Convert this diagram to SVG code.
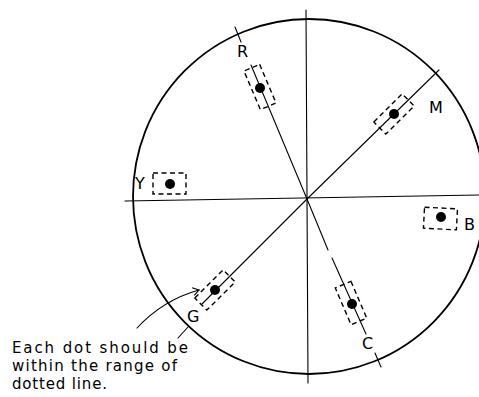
<svg xmlns="http://www.w3.org/2000/svg" width="479" height="397" viewBox="0 0 479 397">
<style>
.ln{stroke:#000;stroke-width:1.1;fill:none;stroke-linecap:round}
.circ{stroke:#000;stroke-width:1.8;fill:none}
.box{stroke:#000;stroke-width:1.4;fill:none;stroke-dasharray:5 3.5}
.dot{fill:#000}
.lbl{font-family:"DejaVu Sans","Liberation Sans",sans-serif;font-size:16px;fill:#000}
.note{font-family:"DejaVu Sans","Liberation Sans",sans-serif;font-size:15px;fill:#000}
</style>
<defs>
<marker id="arr" markerWidth="10" markerHeight="10" refX="8" refY="5" orient="auto" markerUnits="userSpaceOnUse">
<path d="M2,1 L8,5 L2,9" fill="none" stroke="#000" stroke-width="1.1"/>
</marker>
</defs>
<g id="scope">
<ellipse class="circ" cx="309" cy="196.5" rx="176" ry="177.5"/>
</g>
<g id="connectors">
<line class="ln" x1="125" y1="201" x2="479" y2="195"/>
<line class="ln" x1="306" y1="10" x2="308" y2="383"/>
<line class="ln" x1="307" y1="199" x2="251" y2="65"/>
<line class="ln" x1="235" y1="27" x2="241" y2="42"/>
<line class="ln" x1="307" y1="199" x2="439" y2="70"/>
<line class="ln" x1="307" y1="199" x2="328" y2="250"/>
<line class="ln" x1="332" y1="258" x2="366" y2="334"/>
<line class="ln" x1="375" y1="353" x2="381" y2="367"/>
<line class="ln" x1="307" y1="199" x2="202" y2="304"/>
<line class="ln" x1="178" y1="338" x2="188" y2="327"/>
<path class="ln" d="M137,328 Q163,300 199,290" marker-end="url(#arr)"/>
</g>
<g id="R">
<rect class="box" x="-21" y="-8.5" width="42" height="17" transform="translate(260,87) rotate(67)"/>
<circle class="dot" cx="260" cy="88" r="5"/>
<text class="lbl" x="237" y="57">R</text>
</g>
<g id="M">
<rect class="box" x="-20" y="-8.5" width="40" height="17" transform="translate(394,114) rotate(-44.7)"/>
<circle class="dot" cx="394" cy="114" r="5"/>
<text class="lbl" x="429" y="113">M</text>
</g>
<g id="Y">
<rect class="box" x="153" y="173" width="33" height="21"/>
<circle class="dot" cx="170" cy="184" r="5"/>
<text class="lbl" x="135" y="189">Y</text>
</g>
<g id="B">
<rect class="box" x="424" y="208" width="33" height="21" transform="rotate(3 440 218)"/>
<circle class="dot" cx="441" cy="217" r="5"/>
<text class="lbl" x="464" y="230">B</text>
</g>
<g id="C">
<rect class="box" x="-20" y="-8.5" width="40" height="17" transform="translate(351,303) rotate(66.8)"/>
<circle class="dot" cx="352" cy="304" r="5"/>
<text class="lbl" x="362" y="349">C</text>
</g>
<g id="G">
<rect class="box" x="-20" y="-8.5" width="40" height="17" transform="translate(215,290) rotate(-44.7)"/>
<circle class="dot" cx="215" cy="290" r="5"/>
<text class="lbl" x="187" y="322">G</text>
</g>
<g id="note">
<text class="note" x="12" y="353" textLength="176" lengthAdjust="spacing">Each dot should be</text>
<text class="note" x="12" y="371" textLength="165" lengthAdjust="spacing">within the range of</text>
<text class="note" x="12" y="389" textLength="95" lengthAdjust="spacing">dotted line.</text>
</g>
</svg>
